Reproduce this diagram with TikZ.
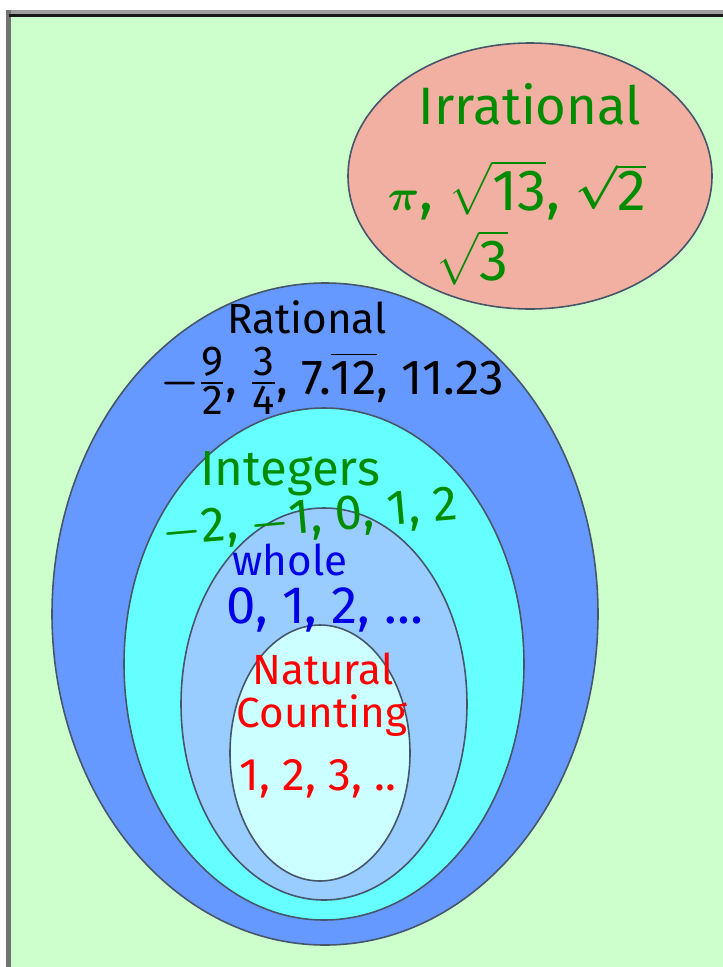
\documentclass[tikz,border=0pt]{standalone}
\usepackage{amsmath}
\usepackage{fontspec}
\setmainfont{Fira Sans}
\usetikzlibrary{positioning}
\definecolor{bggreen}{RGB}{204,255,204}
\definecolor{ratblue}{RGB}{102,153,255}
\definecolor{intcyan}{RGB}{102,255,255}
\definecolor{wholeblue}{RGB}{153,204,255}
\definecolor{natcyan}{RGB}{204,255,255}
\definecolor{irrpink}{RGB}{242,176,162}
\definecolor{pengreen}{RGB}{0,140,0}
\definecolor{penblue}{RGB}{0,0,230}
\definecolor{penred}{RGB}{255,0,0}
\definecolor{rimgrey}{RGB}{70,85,105}
\begin{document}
\begin{tikzpicture}[x=0.02cm,y=-0.02cm,
    setrim/.style={draw=rimgrey,line width=0.9pt},
    pen/.style={inner sep=0pt,align=center,anchor=base},
    bigpen/.style={pen,font=\fontsize{30}{34}\selectfont\boldmath},
    midpen/.style={pen,font=\fontsize{24}{28}\selectfont\boldmath},
    widepen/.style={pen,font=\fontsize{28}{32}\selectfont\boldmath}]
  %% frame
  \useasboundingbox (0,0) rectangle (723,967);
  \fill[white] (0,0) rectangle (723,967);
  \fill[gray!75] (6,10) rectangle (723,14);
  \fill[gray!90!black] (6,10) rectangle (11,967);
  \fill[black!90] (9,14) rectangle (723,17);
  \fill[bggreen] (11,17) rectangle (723,967);

  %% irrational set
  \filldraw[setrim,fill=irrpink] (530,176) ellipse [x radius=182,y radius=133];
  \node[bigpen,text=pengreen] (irr) at (530,124) {Irrational};
  \node[bigpen,text=pengreen,font=\fontsize{33}{37}\selectfont\boldmath]
    (irrnum) at (517,210) {$\pi$, $\sqrt{\text{13}}$, $\sqrt{\text{2}}$};
  \node[bigpen,text=pengreen,font=\fontsize{33}{37}\selectfont\boldmath]
    (irrroot) at (472,280) {$\sqrt{\text{3}}$};

  %% nested sets
  \filldraw[setrim,fill=ratblue] (325,614) ellipse [x radius=273,y radius=331];
  \filldraw[setrim,fill=intcyan] (324,664) ellipse [x radius=200,y radius=256];
  \filldraw[setrim,fill=wholeblue] (324,704) ellipse [x radius=143,y radius=196];
  \filldraw[setrim,fill=natcyan] (320,753) ellipse [x radius=90,y radius=128];

  %% labels
  \node[midpen] (rat) at (307,333) {Rational};
  \node[widepen] (ratnum) at (332,394)
    {$-${\fontsize{34}{38}\selectfont$\tfrac{\text{9}}{\text{2}}$},
     {\fontsize{34}{38}\selectfont$\tfrac{\text{3}}{\text{4}}$},
     7.$\overline{\text{12}}$, 11.23};
  \node[widepen,text=pengreen] (int) at (290,485) {Integers};
  \node[widepen,text=pengreen,rotate=5,anchor=center] (intnum) at (310,520) {$-$2, $-$1, 0, 1, 2};
  \node[midpen,text=penblue] (whole) at (290,575) {whole};
  \node[widepen,text=penblue,font=\fontsize{30}{34}\selectfont] (wholenum) at (325,623) {0, 1, 2, \dots};
  \node[midpen,text=penred] (nat) at (323,684) {Natural};
  \node[midpen,text=penred] (count) at (322,727) {Counting};
  \node[midpen,text=penred,font=\fontsize{26}{30}\selectfont] (natnum) at (318,790) {1, 2, 3, ..};
\end{tikzpicture}
\end{document}
